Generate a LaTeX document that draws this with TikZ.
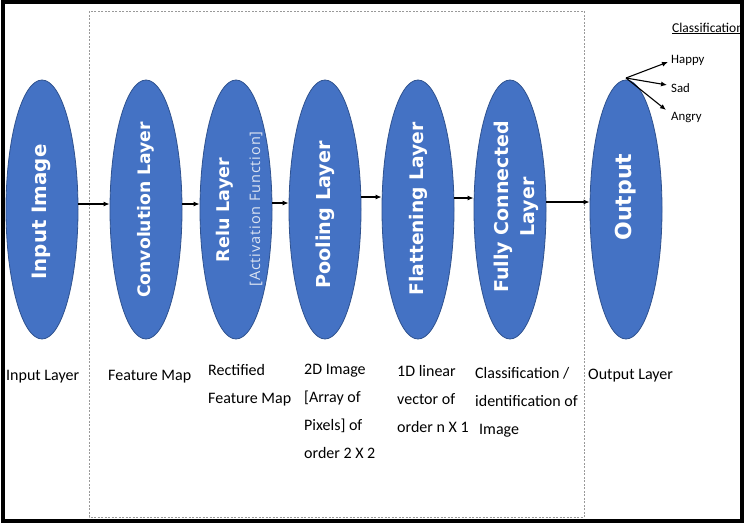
\documentclass[tikz,border=0pt]{standalone}
\usepackage{fontspec}
\setmainfont{Carlito}
\newfontfamily\osb{DejaVu Sans}
\newfontfamily\osl{Open Sans}[LetterSpace=6]
\usetikzlibrary{arrows.meta,shapes.geometric}
\definecolor{lblue}{HTML}{4472C4}
\definecolor{lborder}{HTML}{2F528F}
\definecolor{pale}{HTML}{DCE4F2}
\newcommand{\lfont}[1]{\osb\bfseries\fontsize{#1}{26}\selectfont}
\begin{document}
\begin{tikzpicture}[x=1pt,y=-1pt,
  layer/.style={ellipse, fill=lblue, draw=lborder, line width=0.8, minimum width=72, minimum height=259, inner sep=0},
  ltext/.style={text=white, font=\lfont{19}, inner sep=0, align=center},
  arr/.style={-{Latex[length=6,width=5]}, line width=1.3},
  lab/.style={anchor=base west, font=\fontsize{16}{28}\selectfont, align=left, inner sep=0},
  cls/.style={anchor=base west, font=\fontsize{12.8}{14}\selectfont, inner sep=0}
]
\useasboundingbox (0,0) rectangle (746,525);
\fill[white] (0,0) rectangle (746,525);
% dashed group
\draw[gray!80, line width=0.9, dash pattern=on 2pt off 1.5pt] (89,11) rectangle (584,517);
% ellipses
\node[layer] (in)   at (42,209.5)  {};
\node[layer] (conv) at (146,209.5) {};
\node[layer] (relu) at (236,209.5) {};
\node[layer] (pool) at (325,209.5) {};
\node[layer] (flat) at (418,209.5) {};
\node[layer] (fc)   at (510,209.5) {};
\node[layer] (out)  at (626,209.5) {};
% texts
\node[ltext, font=\lfont{19.8}] (tin)   at (41,212)  {\rotatebox{90}{Input Image}};
\node[ltext, font=\lfont{17.2}] (tconv) at (146,210) {\rotatebox{90}{Convolution Layer}};
\node[ltext, font=\lfont{17.5}] (trelu) at (225,210) {\rotatebox{90}{Relu Layer}};
\node[text=pale, font=\osl\fontsize{14.5}{16}\selectfont, inner sep=0] (tact) at (256,209) {\rotatebox{90}{[Activation Function]}};
\node[ltext, font=\lfont{19.2}] (tpool) at (325,215) {\rotatebox{90}{Pooling Layer}};
\node[ltext, font=\lfont{18.7}] (tflat) at (418,209) {\rotatebox{90}{Flattening Layer}};
\node[ltext, font=\lfont{19}]   (tfc)   at (516,207) {\rotatebox{90}{\begin{tabular}{@{}c@{}}Fully Connected\\Layer\end{tabular}}};
\node[ltext, font=\lfont{22}]   (tout)  at (626,197) {\rotatebox{90}{Output}};
% arrows
\draw[arr] ([yshift=5.5]in.east)   -- ([yshift=5.5]conv.west);
\draw[arr] ([yshift=5.5]conv.east) -- ([yshift=5.5]relu.west);
\draw[arr] ([yshift=6.5]relu.east) -- ([yshift=6.5]pool.west);
\draw[arr] ([yshift=12.5]pool.east) -- ([yshift=12.5]flat.west);
\draw[arr] ([yshift=11.5]flat.east) -- ([yshift=11.5]fc.west);
\draw[arr] ([yshift=7.5]fc.east)   -- ([yshift=7.5]out.west);
% classification
\begin{scope}
\clip (0,0) rectangle (742,525);
\node[anchor=base west, font=\fontsize{13.5}{15}\selectfont, inner sep=0] (clsh) at (672,32) {\underline{Classification}};
\end{scope}
\node[cls] (happy) at (671,63) {Happy};
\node[cls] (sad)   at (671,92) {Sad};
\node[cls] (angry) at (671,120) {Angry};
\coordinate (src) at (626,78);
\coordinate (hp) at (668,62);
\coordinate (sd) at (667,85);
\coordinate (ag) at (666,110);
\draw[arr, line width=1.1] (src) -- (hp);
\draw[arr, line width=1.1] (src) -- (sd);
\draw[arr, line width=1.1] (src) -- (ag);
% bottom labels (anchored at the baseline of the last line)
\node[lab] (l1) at (6,380) {Input Layer};
\node[lab] (l2) at (108,380) {Feature Map};
\node[lab] (l3) at (208,403) {Rectified\\Feature Map};
\node[lab] (l4) at (304,458) {2D Image\\{[Array of}\\Pixels] of\\order 2 X 2};
\node[lab] (l5) at (397,432) {1D linear\\vector of\\order n X 1};
\node[lab] (l6) at (475,434) {Classification /\\identification of\\\hspace*{4pt}Image};
\node[lab] (l7) at (588,379) {Output Layer};
% frame
\draw[line width=4] (2.5,2) rectangle (742,521);
\end{tikzpicture}
\end{document}
